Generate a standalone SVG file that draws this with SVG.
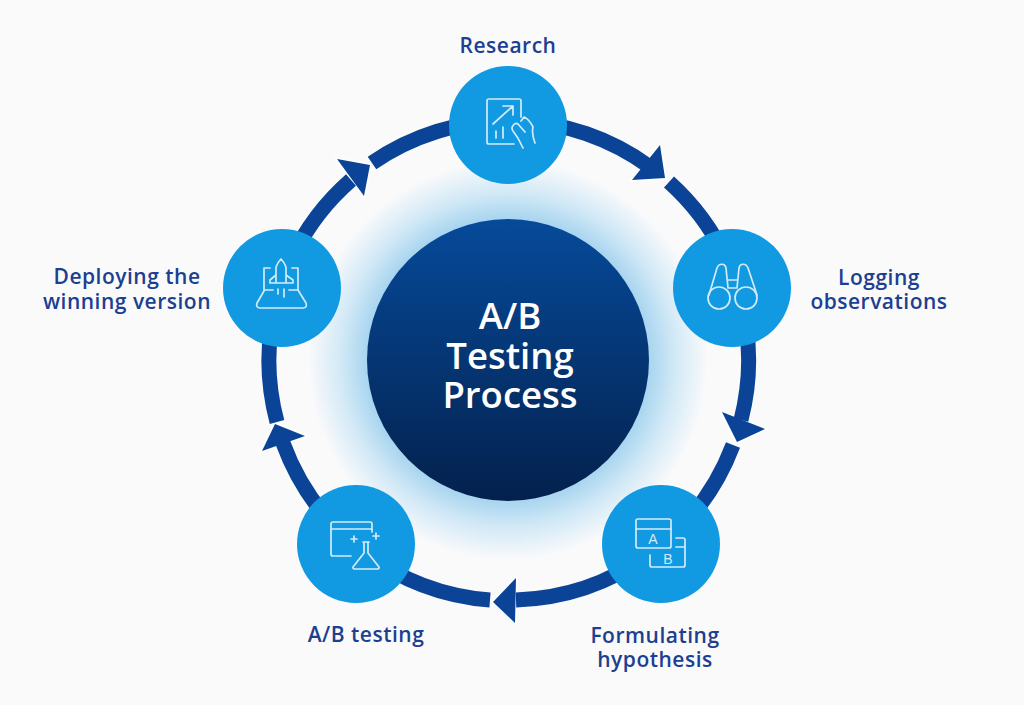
<svg xmlns="http://www.w3.org/2000/svg" width="1024" height="705" viewBox="0 0 1024 705">
<style>
.lbl{font-family:"Open Sans","Noto Sans","Liberation Sans",sans-serif;font-weight:600;font-size:21px;letter-spacing:.5px;fill:#1d3f91;text-anchor:middle}
.ttl{font-family:"Open Sans","Noto Sans","Liberation Sans",sans-serif;font-weight:600;font-size:36.500px;fill:#fff;text-anchor:middle}
.node{fill:#119ae2}
.ico{fill:none;stroke:#d3ebf9;stroke-width:1.7;stroke-linecap:round;stroke-linejoin:round}
.ltr{font-family:"Liberation Sans",sans-serif;font-size:14px;fill:#d3ebf9;text-anchor:middle}
.arc{fill:none;stroke:#0b4496;stroke-width:15}
.head{fill:#0b4496;stroke:#fff;stroke-width:3;paint-order:stroke;stroke-linejoin:miter}
</style>
<defs>
<radialGradient id="glow" gradientUnits="userSpaceOnUse" cx="508" cy="360" r="200">
<stop offset="0.68" stop-color="#a0d1ee"/>
<stop offset="0.83" stop-color="#d0e8f6"/>
<stop offset="1" stop-color="#fafafb"/>
</radialGradient>
<linearGradient id="core" x1="0" y1="0" x2="0" y2="1">
<stop offset="0" stop-color="#064a9a"/>
<stop offset="1" stop-color="#04214d"/>
</linearGradient>
</defs>
<rect width="1024" height="705" fill="#fafafb"/>
<g id="center">
<circle cx="508" cy="360" r="200" fill="url(#glow)"/>
<circle cx="508" cy="360" r="141" fill="url(#core)"/>
<text class="ttl" x="510" y="329">A/B</text>
<text class="ttl" x="510" y="369">Testing</text>
<text class="ttl" x="510" y="408">Process</text>
</g>
<g id="connectors">
<polygon class="head" points="660,145 665,178 632,180"/>
<polygon class="head" points="722,412 765,429 737,442"/>
<polygon class="head" points="516,578 493,602 515,623"/>
<polygon class="head" points="305,436 275,424 262,451"/>
<polygon class="head" points="337,159 370,165 364,196"/>
<path class="arc" d="M372 163A240 240 0 0 1 650 167"/>
<path class="arc" d="M669 182A240 240 0 0 1 741 420"/>
<path class="arc" d="M733 445A240 240 0 0 1 516 600"/>
<path class="arc" d="M490 600A240 240 0 0 1 283 443"/>
<path class="arc" d="M277 422A240 240 0 0 1 351 180"/>
</g>
<g id="research">
<circle class="node" cx="508" cy="125" r="59"/>
<path class="ico" d="M514 144H489a2 2 0 0 1-2-2V101a2 2 0 0 1 2-2H519a2 2 0 0 1 2 2V117M493 124L513 106M503 106H513V115M496 138V131M503 138V127M523 148C520 141 517 136 513 131C510 127 515 122 518 124L525 132M521 121L524 117C529 119 531 123 533 127C532 131 532 135 535 143"/>
<text class="lbl" x="508" y="53">Research</text>
</g>
<g id="logging">
<circle class="node" cx="732" cy="288" r="59"/>
<path class="ico" d="M709 295L717 268C719 263 725 263 726 268L728 288M757 295L748 268C746 263 740 263 739 268L737 288M728 280H737M728 288H737"/>
<circle class="ico" cx="719" cy="298" r="11"/>
<circle class="ico" cx="746" cy="298" r="11"/>
<text class="lbl" x="879" y="285">Logging</text>
<text class="lbl" x="879" y="309">observations</text>
</g>
<g id="hypothesis">
<circle class="node" cx="661" cy="544" r="59"/>
<rect class="ico" x="636" y="519" width="35" height="29" rx="2"/>
<path class="ico" d="M636 529H671M650 555V565a2 2 0 0 0 2 2H683a2 2 0 0 0 2-2V540a2 2 0 0 0-2-2H676M676 547H685"/>
<text class="ltr" x="653" y="544">A</text>
<text class="ltr" x="668" y="564">B</text>
<text class="lbl" x="655" y="643">Formulating</text>
<text class="lbl" x="655" y="667">hypothesis</text>
</g>
<g id="testing">
<circle class="node" cx="356" cy="544" r="59"/>
<path class="ico" d="M351 556H333a2 2 0 0 1-2-2V524a2 2 0 0 1 2-2H370a2 2 0 0 1 2 2V532M331 529H372M351 539H357M354 536V542M373 536H379M376 533V539M363 542H369M364 542V553L353 567a1.500 1.500 0 0 0 1 2H378a1.500 1.500 0 0 0 1-2L368 553V542"/>
<text class="lbl" x="366" y="642">A/B testing</text>
</g>
<g id="deploying">
<circle class="node" cx="282" cy="288" r="59"/>
<path class="ico" d="M276 283V267C277 264 279 261 281 259C283 261 285 264 286 267V283M276 275L270 280V283H293V280L286 275M278 289V294M284 289V297M270 268H264V290M292 268H298V290M264 291L257 303C256 306 257 308 260 308H303C306 308 307 306 306 303L298 290M264 290H273M289 290H298"/>
<text class="lbl" x="127" y="284">Deploying the</text>
<text class="lbl" x="127" y="309">winning version</text>
</g>
</svg>
